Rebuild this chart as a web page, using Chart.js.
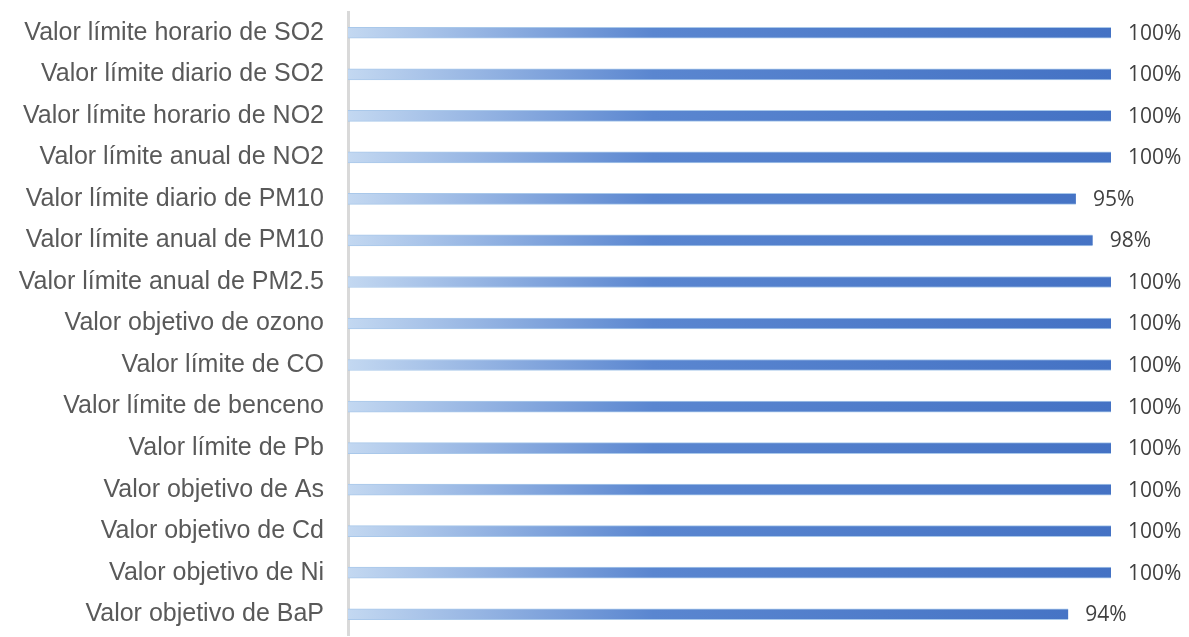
<!DOCTYPE html>
<html>
<head>
<meta charset="utf-8">
<script src="https://cdn.jsdelivr.net/npm/chart.js@4/dist/chart.umd.min.js"></script>
<style>
  html, body { margin: 0; padding: 0; background: #fff; overflow: hidden; }
  #wrap { position: relative; width: 1189px; height: 637px; }
</style>
</head>
<body>
<div id="wrap"><canvas id="barChart"></canvas></div>
<script>
// Categorías (de arriba a abajo)
const categorias = [
    'Valor límite horario de SO2',
    'Valor límite diario de SO2',
    'Valor límite horario de NO2',
    'Valor límite anual de NO2',
    'Valor límite diario de PM10',
    'Valor límite anual de PM10',
    'Valor límite anual de PM2.5',
    'Valor objetivo de ozono',
    'Valor límite de CO',
    'Valor límite de benceno',
    'Valor límite de Pb',
    'Valor objetivo de As',
    'Valor objetivo de Cd',
    'Valor objetivo de Ni',
    'Valor objetivo de BaP'
];
// Porcentaje de cumplimiento
const cumplimiento = [100, 100, 100, 100, 95.4, 97.6, 100, 100, 100, 100, 100, 100, 100, 100, 94.4];

// Etiquetas de porcentaje al final de cada barra
const etiquetasPlugin = {
    id: 'etiquetas',
    afterDatasetsDraw(chart) {
        const ctx = chart.ctx;
        const meta = chart.getDatasetMeta(0);
        ctx.save();
        ctx.font = '21px "Open Sans"';
        ctx.fillStyle = '#404040';
        ctx.textAlign = 'left';
        ctx.textBaseline = 'middle';
        meta.data.forEach(function(bar, i) {
            ctx.fillText(Math.round(cumplimiento[i]) + '%', bar.x + 17, bar.y + 1);
        });
        ctx.restore();
    }
};

// Degradado horizontal de las barras
function degradado(context) {
    const area = context.chart.chartArea;
    if (!area) return '#4472c4';
    const g = context.chart.ctx.createLinearGradient(area.left, 0, area.right, 0);
    g.addColorStop(0, '#c3d8f1');
    g.addColorStop(0.4, '#5a86d0');
    g.addColorStop(1, '#4472c4');
    return g;
}

const ctx = document.getElementById('barChart').getContext('2d');
new Chart(ctx, {
    type: 'bar',
    data: {
        labels: categorias,
        datasets: [{
            data: cumplimiento,
            backgroundColor: degradado,
            borderColor: '#a9c8ea',
            borderWidth: { top: 1, bottom: 1, left: 0, right: 0 },
            barThickness: 11
        }]
    },
    options: {
        indexAxis: 'y',
        responsive: true,
        maintainAspectRatio: false,
        animation: false,
        layout: { padding: { top: 12, bottom: 2, right: 78, left: 0 } },
        plugins: {
            legend: { display: false },
            tooltip: { enabled: false }
        },
        scales: {
            x: {
                display: false,
                min: 0,
                max: 100
            },
            y: {
                afterFit: function(scale) {
                    scale.width = 348;
                    scale.paddingTop = 0;
                    scale.paddingBottom = 0;
                },
                grid: { display: false, drawTicks: false },
                border: { display: true, color: '#d9d9d9', width: 3 },
                ticks: {
                    padding: 24,
                    autoSkip: false,
                    color: '#595959',
                    font: { family: '"Liberation Sans", Arial, sans-serif', size: 25 }
                }
            }
        }
    },
    plugins: [etiquetasPlugin]
});
</script>
</body>
</html>
